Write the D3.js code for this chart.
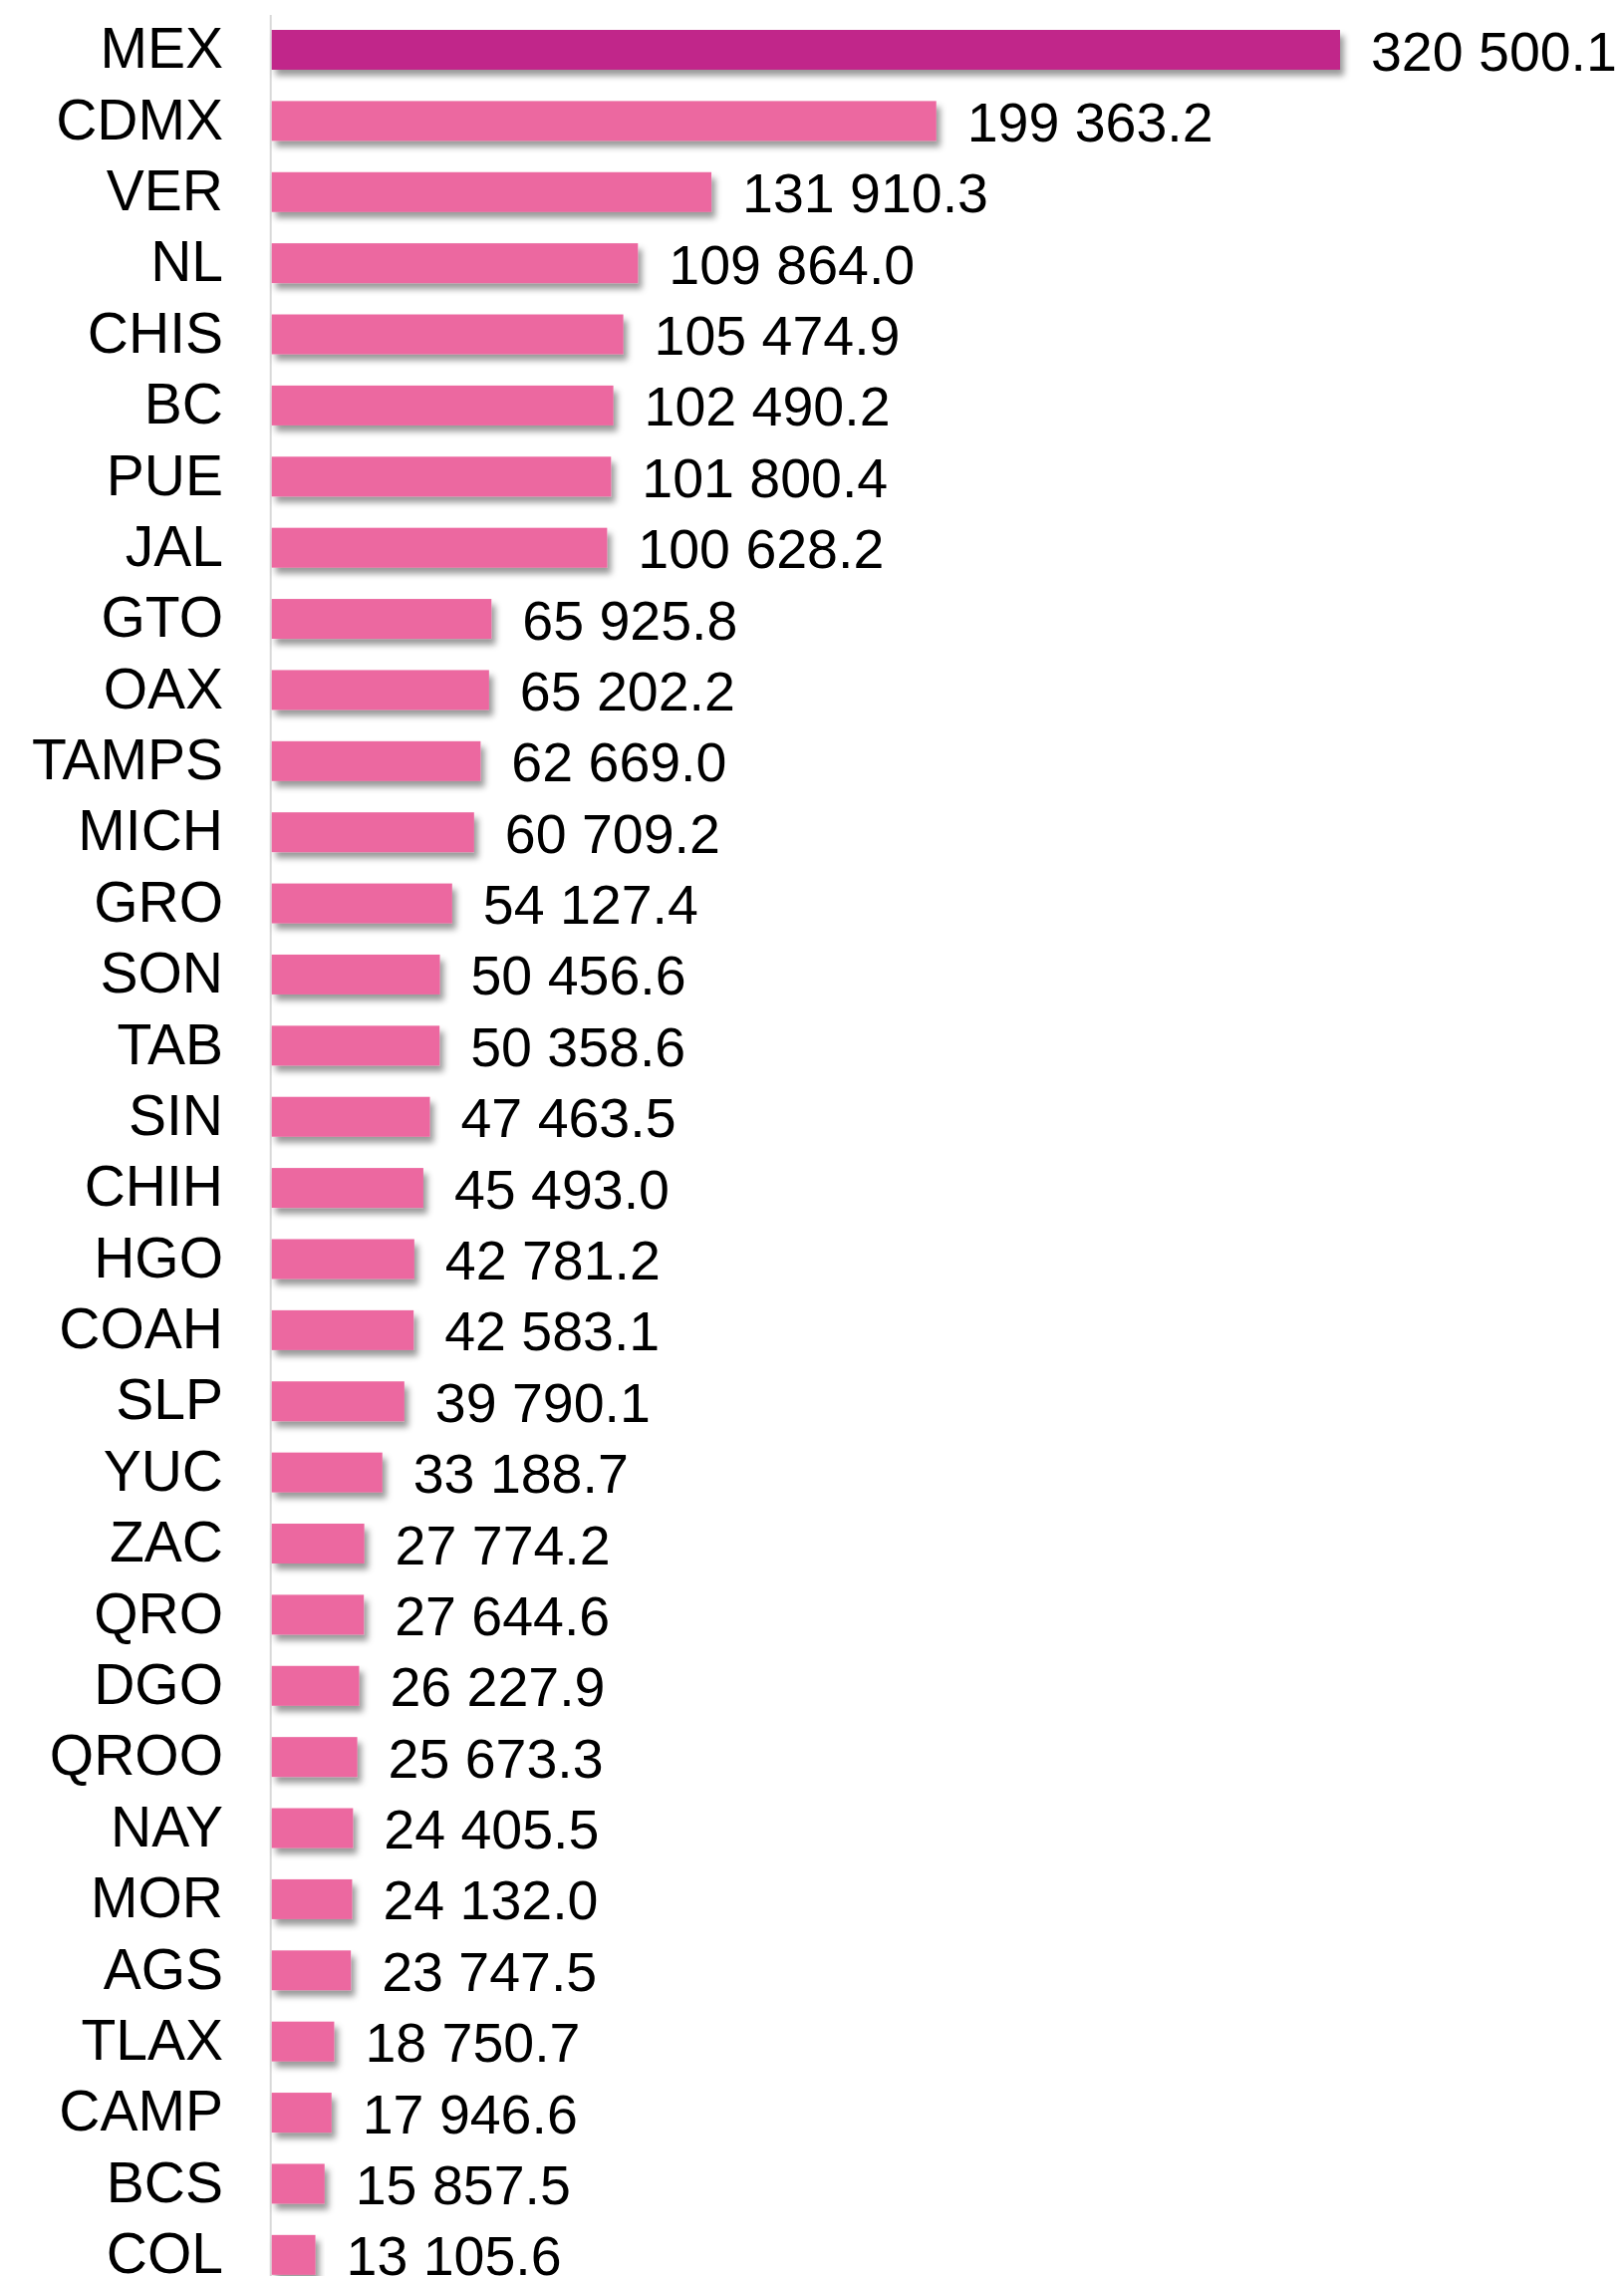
<!DOCTYPE html>
<html>
<head>
<meta charset="utf-8">
<script src="https://cdn.jsdelivr.net/npm/d3@7"></script>
<style>
  html, body { margin: 0; padding: 0; background: #fff; }
  svg { display: block; }
</style>
</head>
<body>
<script>
const states = ["MEX", "CDMX", "VER", "NL", "CHIS", "BC", "PUE", "JAL", "GTO", "OAX",
  "TAMPS", "MICH", "GRO", "SON", "TAB", "SIN", "CHIH", "HGO", "COAH", "SLP",
  "YUC", "ZAC", "QRO", "DGO", "QROO", "NAY", "MOR", "AGS", "TLAX", "CAMP", "BCS", "COL"];
const values = [320500.1, 199363.2, 131910.3, 109864.0, 105474.9, 102490.2, 101800.4, 100628.2, 65925.8, 65202.2,
  62669.0, 60709.2, 54127.4, 50456.6, 50358.6, 47463.5, 45493.0, 42781.2, 42583.1, 39790.1,
  33188.7, 27774.2, 27644.6, 26227.9, 25673.3, 24405.5, 24132.0, 23747.5, 18750.7, 17946.6, 15857.5, 13105.6];
const highlight = ["MEX"];

const width = 1630, height = 2284;
const data = states.map((s, i) => ({state: s, value: values[i]}));

const locale = d3.formatLocale({decimal: ".", thousands: " ", grouping: [3], currency: ["", ""]});
const fmt = locale.format(",.1f");

const x = d3.scaleLinear()
    .domain([0, d3.max(values)])
    .range([272.7, 1345]);

const y = d3.scaleBand()
    .domain(states)
    .range([30, 2282.8])
    .paddingInner(0.44)
    .paddingOuter(0);

const svg = d3.select("body").append("svg")
    .attr("width", width)
    .attr("height", height)
    .attr("font-family", "'Liberation Sans', Arial, sans-serif");

svg.append("rect")
    .attr("width", width)
    .attr("height", height)
    .attr("fill", "#fff");

const filter = svg.append("defs").append("filter")
    .attr("id", "shadow")
    .attr("x", "-10%").attr("y", "-30%")
    .attr("width", "130%").attr("height", "180%");
filter.append("feDropShadow")
    .attr("dx", 4)
    .attr("dy", 6)
    .attr("stdDeviation", 3)
    .attr("flood-color", "#000")
    .attr("flood-opacity", 0.4);

// vertical axis line
svg.append("line")
    .attr("x1", 271.7).attr("x2", 271.7)
    .attr("y1", 15).attr("y2", height)
    .attr("stroke", "#d9d9d9")
    .attr("stroke-width", 2);

svg.append("g")
  .selectAll("rect")
  .data(data)
  .join("rect")
    .attr("x", x(0))
    .attr("y", d => y(d.state))
    .attr("width", d => x(d.value) - x(0))
    .attr("height", y.bandwidth())
    .attr("fill", d => highlight.includes(d.state) ? "#c1258a" : "#ec68a0")
    .attr("filter", "url(#shadow)");

svg.append("g")
    .attr("text-anchor", "end")
    .attr("font-size", 57)
  .selectAll("text")
  .data(data)
  .join("text")
    .attr("x", 224)
    .attr("y", d => y(d.state) + y.bandwidth() / 2)
    .attr("dy", "0.32em")
    .attr("fill", "#000")
    .text(d => d.state);

svg.append("g")
    .attr("font-size", 55.5)
  .selectAll("text")
  .data(data)
  .join("text")
    .attr("x", d => x(d.value) + 31)
    .attr("y", d => y(d.state) + y.bandwidth() / 2)
    .attr("dy", "0.37em")
    .attr("fill", "#000")
    .text(d => fmt(d.value));
</script>
</body>
</html>
